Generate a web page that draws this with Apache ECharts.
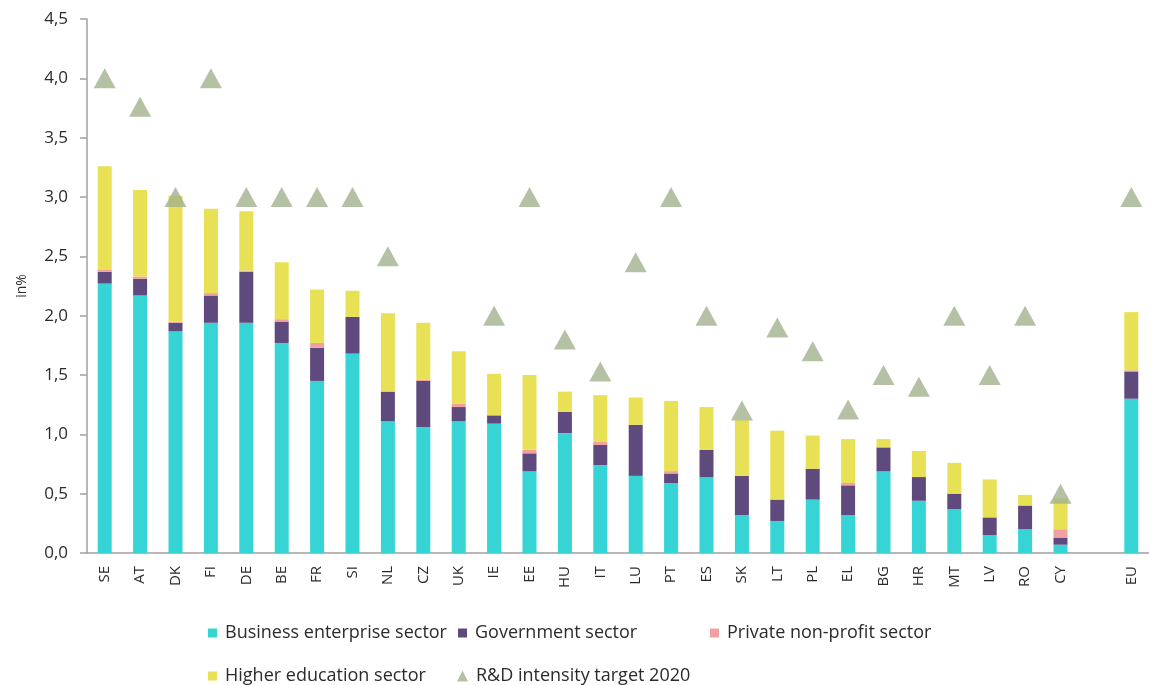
<!DOCTYPE html>
<html>
<head>
<meta charset="utf-8">
<script src="https://cdn.jsdelivr.net/npm/echarts@6/dist/echarts.min.js"></script>
<style>
  html, body { margin: 0; padding: 0; background: #fff; }
  #chart { width: 1149px; height: 685px; }
</style>
</head>
<body>
<div id="chart"></div>
<script>
const countries = ['SE', 'AT', 'DK', 'FI', 'DE', 'BE', 'FR', 'SI', 'NL', 'CZ', 'UK', 'IE', 'EE', 'HU', 'IT',
  'LU', 'PT', 'ES', 'SK', 'LT', 'PL', 'EL', 'BG', 'HR', 'MT', 'LV', 'RO', 'CY', '', 'EU']

const business = [2.27, 2.17, 1.87, 1.94, 1.94, 1.77, 1.45, 1.68, 1.11, 1.06, 1.11, 1.09, 0.69, 1.01, 0.74,
  0.65, 0.59, 0.64, 0.32, 0.27, 0.45, 0.32, 0.69, 0.44, 0.37, 0.15, 0.20, 0.07, null, 1.30]
const government = [0.10, 0.14, 0.07, 0.23, 0.43, 0.18, 0.28, 0.31, 0.25, 0.39, 0.12, 0.07, 0.15, 0.18, 0.17,
  0.43, 0.08, 0.23, 0.33, 0.18, 0.26, 0.25, 0.20, 0.20, 0.13, 0.15, 0.20, 0.06, null, 0.23]
const privateNonProfit = [0.02, 0.02, 0.01, 0.02, 0.01, 0.02, 0.04, 0.00, 0.00, 0.01, 0.03, 0.00, 0.03, 0.00, 0.03,
  0.00, 0.02, 0.00, 0.00, 0.00, 0.00, 0.02, 0.00, 0.00, 0.00, 0.00, 0.00, 0.07, null, 0.01]
const higherEducation = [0.87, 0.73, 1.06, 0.71, 0.50, 0.48, 0.45, 0.22, 0.66, 0.48, 0.44, 0.35, 0.63, 0.17, 0.39,
  0.23, 0.59, 0.36, 0.47, 0.58, 0.28, 0.37, 0.07, 0.22, 0.26, 0.32, 0.09, 0.26, null, 0.49]
const target2020 = [4.0, 3.76, 3.0, 4.0, 3.0, 3.0, 3.0, 3.0, 2.5, null, null, 2.0, 3.0, 1.8, 1.53,
  2.45, 3.0, 2.0, 1.2, 1.9, 1.7, 1.21, 1.5, 1.4, 2.0, 1.5, 2.0, 0.5, null, 3.0]

const yTicks = { min: 0, max: 4.5, interval: 0.5 }

const colors = {
  business: '#36d4d4',
  government: '#5e4a7d',
  privateNp: '#f0a0a0',
  higher: '#e8e155',
  target: '#a3b18e',
  axis: '#a0a0a0',
  text: '#2b2b2b',
}

const font = '"Open Sans", "DejaVu Sans", sans-serif'

function barSeries(name, data, color) {
  return {
    name,
    type: 'bar',
    stack: 'rd',
    data,
    barWidth: 14,
    itemStyle: { color },
    emphasis: { disabled: true },
  }
}

function legendBox(name, left, top, icon) {
  return {
    data: [name],
    left,
    top,
    icon: icon || 'rect',
    itemWidth: icon ? 11 : 9,
    itemHeight: icon ? 11 : 9,
    textStyle: { color: colors.text, fontSize: 18, fontFamily: font, padding: [0, 0, 0, 3] },
    selectedMode: false,
  }
}

const chart = echarts.init(document.getElementById('chart'))

chart.setOption({
  animation: false,
  grid: { left: 87, right: 0, top: 19, bottom: 132 },
  legend: [
    legendBox('Business enterprise sector', 203, 619),
    legendBox('Government sector', 453, 619),
    legendBox('Private non-profit sector', 705, 619),
    legendBox('Higher education sector', 203, 662),
    legendBox('R&D intensity target 2020', 452, 662, 'triangle'),
  ],
  xAxis: {
    type: 'category',
    data: countries,
    axisLine: { lineStyle: { color: colors.axis, width: 1.5 } },
    axisTick: { interval: 0, length: 6, lineStyle: { color: colors.axis, width: 1.5 } },
    axisLabel: {
      interval: 0,
      rotate: 90,
      color: colors.text,
      fontSize: 15,
      fontFamily: font,
      margin: 13,
    },
  },
  yAxis: {
    type: 'value',
    min: yTicks.min,
    max: yTicks.max,
    interval: yTicks.interval,
    name: 'in%',
    nameLocation: 'middle',
    nameRotate: 90,
    nameGap: 58,
    nameTextStyle: { color: colors.text, fontSize: 14, fontFamily: font },
    axisLine: { show: true, lineStyle: { color: colors.axis, width: 1.5 } },
    axisTick: { show: true, length: 7, lineStyle: { color: colors.axis, width: 1.5 } },
    splitLine: { show: false },
    axisLabel: {
      color: colors.text,
      fontSize: 17,
      fontFamily: font,
      margin: 19,
      formatter: v => v.toFixed(1).replace('.', ','),
    },
  },
  series: [
    barSeries('Business enterprise sector', business, colors.business),
    barSeries('Government sector', government, colors.government),
    barSeries('Private non-profit sector', privateNonProfit, colors.privateNp),
    barSeries('Higher education sector', higherEducation, colors.higher),
    {
      name: 'R&D intensity target 2020',
      type: 'scatter',
      data: target2020,
      symbol: 'triangle',
      symbolSize: [22, 20],
      itemStyle: { color: colors.target },
      emphasis: { disabled: true },
      z: 5,
    },
  ],
})
</script>
</body>
</html>
